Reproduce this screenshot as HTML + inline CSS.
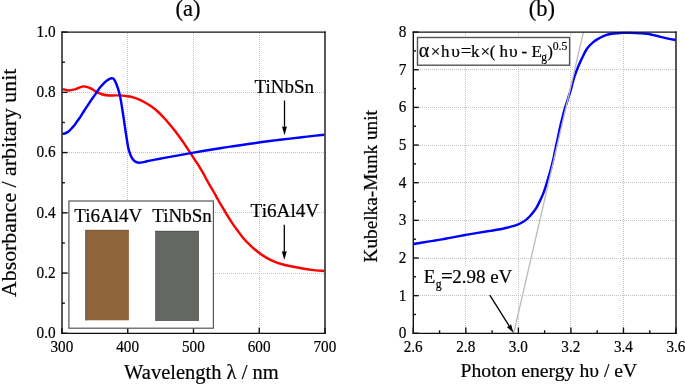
<!DOCTYPE html>
<html><head><meta charset="utf-8"><style>
html,body{margin:0;padding:0;background:#fff;}
body{width:685px;height:384px;overflow:hidden;font-family:"Liberation Serif",serif;}
svg{display:block;will-change:transform;}
text{font-family:"Liberation Serif",serif;fill:#000;stroke:#000;stroke-width:0.2px;}
</style></head><body>
<svg width="685" height="384" viewBox="0 0 685 384">
<rect width="685" height="384" fill="#fff"/>
<line x1="127.50" y1="33" x2="127.50" y2="332" stroke="#c2c2c2" stroke-width="1" stroke-dasharray="1 1"/>
<line x1="193.50" y1="33" x2="193.50" y2="332" stroke="#c2c2c2" stroke-width="1" stroke-dasharray="1 1"/>
<line x1="259.50" y1="33" x2="259.50" y2="332" stroke="#c2c2c2" stroke-width="1" stroke-dasharray="1 1"/>
<line x1="63" y1="273.50" x2="324" y2="273.50" stroke="#c2c2c2" stroke-width="1" stroke-dasharray="1 1"/>
<line x1="63" y1="212.50" x2="324" y2="212.50" stroke="#c2c2c2" stroke-width="1" stroke-dasharray="1 1"/>
<line x1="63" y1="152.50" x2="324" y2="152.50" stroke="#c2c2c2" stroke-width="1" stroke-dasharray="1 1"/>
<line x1="63" y1="92.50" x2="324" y2="92.50" stroke="#c2c2c2" stroke-width="1" stroke-dasharray="1 1"/>
<path d="M62.50,89.10 C63.57,89.33 66.72,90.50 68.90,90.50 C71.08,90.50 73.18,89.78 75.60,89.10 C78.02,88.42 80.97,86.55 83.40,86.40 C85.83,86.25 88.02,87.28 90.20,88.20 C92.38,89.12 94.42,90.85 96.50,91.90 C98.58,92.95 100.53,93.90 102.70,94.50 C104.87,95.10 107.17,95.35 109.50,95.50 C111.83,95.65 113.67,95.27 116.70,95.40 C119.73,95.53 124.82,95.93 127.70,96.30 C130.58,96.67 131.95,97.00 134.00,97.60 C136.05,98.20 137.96,98.95 140.00,99.90 C142.04,100.85 144.17,102.07 146.25,103.30 C148.33,104.53 150.42,105.77 152.50,107.30 C154.58,108.83 156.67,110.55 158.75,112.50 C160.83,114.45 162.92,116.71 165.00,119.00 C167.08,121.29 169.17,123.72 171.25,126.25 C173.33,128.78 175.54,131.59 177.50,134.20 C179.46,136.81 181.33,139.50 183.00,141.90 C184.67,144.30 186.08,146.47 187.50,148.60 C188.92,150.73 190.17,152.67 191.50,154.70 C192.83,156.73 194.35,159.05 195.50,160.80 C196.65,162.55 197.40,163.60 198.40,165.20 C199.40,166.80 200.50,168.70 201.50,170.40 C202.50,172.10 203.57,173.88 204.40,175.40 C205.23,176.92 205.67,177.97 206.50,179.50 C207.33,181.03 208.38,182.85 209.40,184.60 C210.42,186.35 211.60,188.28 212.60,190.00 C213.60,191.72 214.57,193.40 215.40,194.90 C216.23,196.40 216.72,197.42 217.60,199.00 C218.48,200.58 219.62,202.57 220.70,204.40 C221.78,206.23 223.00,208.17 224.10,210.00 C225.20,211.83 226.27,213.70 227.30,215.40 C228.33,217.10 229.20,218.50 230.30,220.20 C231.40,221.90 232.68,223.87 233.90,225.60 C235.12,227.33 236.48,229.10 237.60,230.60 C238.72,232.10 239.32,232.97 240.60,234.60 C241.88,236.23 243.60,238.53 245.30,240.40 C247.00,242.27 249.05,244.15 250.80,245.80 C252.55,247.45 254.10,248.88 255.80,250.30 C257.50,251.72 259.26,253.08 261.00,254.30 C262.74,255.52 264.50,256.60 266.25,257.60 C268.00,258.60 270.01,259.58 271.50,260.30 C272.99,261.02 273.72,261.32 275.20,261.90 C276.68,262.47 277.80,263.02 280.40,263.75 C283.00,264.48 287.32,265.49 290.80,266.25 C294.28,267.01 297.77,267.69 301.25,268.30 C304.73,268.91 307.88,269.45 311.70,269.90 C315.52,270.35 322.12,270.82 324.20,271.00" fill="none" stroke="#ff0000" stroke-width="2.45" stroke-linejoin="round"/>
<path d="M62.50,133.90 C62.85,133.83 63.82,133.75 64.60,133.50 C65.38,133.25 66.33,132.92 67.20,132.40 C68.07,131.88 68.93,131.22 69.80,130.40 C70.67,129.58 71.53,128.50 72.40,127.50 C73.27,126.50 74.13,125.53 75.00,124.40 C75.87,123.27 76.73,121.92 77.60,120.70 C78.47,119.48 79.13,118.72 80.20,117.10 C81.27,115.48 82.77,112.92 84.00,111.00 C85.23,109.08 86.43,107.37 87.60,105.60 C88.77,103.83 89.87,102.07 91.00,100.40 C92.13,98.73 93.38,97.07 94.40,95.60 C95.42,94.13 96.03,93.10 97.10,91.60 C98.17,90.10 99.58,88.10 100.80,86.60 C102.02,85.10 103.37,83.63 104.40,82.60 C105.43,81.57 106.13,81.03 107.00,80.40 C107.87,79.77 108.83,79.17 109.60,78.80 C110.37,78.43 111.00,78.23 111.60,78.20 C112.20,78.17 112.67,78.20 113.20,78.60 C113.73,79.00 114.28,79.73 114.80,80.60 C115.32,81.47 115.83,82.65 116.30,83.80 C116.77,84.95 117.17,86.20 117.60,87.50 C118.03,88.80 118.52,90.27 118.90,91.60 C119.28,92.93 119.52,93.70 119.90,95.50 C120.28,97.30 120.77,99.90 121.20,102.40 C121.63,104.90 122.03,107.50 122.50,110.50 C122.97,113.50 123.52,117.15 124.00,120.40 C124.48,123.65 124.90,126.67 125.40,130.00 C125.90,133.33 126.52,137.40 127.00,140.40 C127.48,143.40 127.82,145.83 128.30,148.00 C128.78,150.17 129.35,151.83 129.90,153.40 C130.45,154.97 130.95,156.23 131.60,157.40 C132.25,158.57 133.00,159.60 133.80,160.40 C134.60,161.20 135.53,161.80 136.40,162.20 C137.27,162.60 137.95,162.78 139.00,162.80 C140.05,162.82 141.53,162.52 142.70,162.30 C143.87,162.08 144.78,161.78 146.00,161.50 C147.22,161.22 147.67,161.07 150.00,160.60 C152.33,160.13 156.67,159.32 160.00,158.70 C163.33,158.08 164.85,157.83 170.00,156.90 C175.15,155.97 182.57,154.55 190.90,153.10 C199.23,151.65 212.65,149.38 220.00,148.20 C227.35,147.02 230.00,146.73 235.00,146.00 C240.00,145.27 245.83,144.42 250.00,143.80 C254.17,143.18 255.83,142.87 260.00,142.30 C264.17,141.73 270.00,141.02 275.00,140.40 C280.00,139.78 284.67,139.23 290.00,138.60 C295.33,137.97 301.30,137.25 307.00,136.60 C312.70,135.95 321.33,135.02 324.20,134.70" fill="none" stroke="#0000ff" stroke-width="2.45" stroke-linejoin="round"/>
<line x1="62.0" y1="333.30" x2="67.6" y2="333.30" stroke="#111" stroke-width="1.4"/>
<line x1="62.0" y1="303.18" x2="64.9" y2="303.18" stroke="#111" stroke-width="1.4"/>
<line x1="62.0" y1="273.06" x2="67.6" y2="273.06" stroke="#111" stroke-width="1.4"/>
<line x1="62.0" y1="242.94" x2="64.9" y2="242.94" stroke="#111" stroke-width="1.4"/>
<line x1="62.0" y1="212.82" x2="67.6" y2="212.82" stroke="#111" stroke-width="1.4"/>
<line x1="62.0" y1="182.70" x2="64.9" y2="182.70" stroke="#111" stroke-width="1.4"/>
<line x1="62.0" y1="152.58" x2="67.6" y2="152.58" stroke="#111" stroke-width="1.4"/>
<line x1="62.0" y1="122.46" x2="64.9" y2="122.46" stroke="#111" stroke-width="1.4"/>
<line x1="62.0" y1="92.34" x2="67.6" y2="92.34" stroke="#111" stroke-width="1.4"/>
<line x1="62.0" y1="62.22" x2="64.9" y2="62.22" stroke="#111" stroke-width="1.4"/>
<line x1="62.0" y1="32.10" x2="67.6" y2="32.10" stroke="#111" stroke-width="1.4"/>
<line x1="62.00" y1="333.3" x2="62.00" y2="327.7" stroke="#111" stroke-width="1.4"/>
<line x1="127.75" y1="333.3" x2="127.75" y2="327.7" stroke="#111" stroke-width="1.4"/>
<line x1="193.50" y1="333.3" x2="193.50" y2="327.7" stroke="#111" stroke-width="1.4"/>
<line x1="259.25" y1="333.3" x2="259.25" y2="327.7" stroke="#111" stroke-width="1.4"/>
<line x1="325.00" y1="333.3" x2="325.00" y2="327.7" stroke="#111" stroke-width="1.4"/>
<rect x="68.9" y="201" width="144.5" height="127.2" fill="#fff" stroke="#555" stroke-width="1.2"/>
<rect x="85.2" y="229.9" width="43.7" height="90.4" fill="rgb(143,101,61)"/>
<rect x="85.2" y="229.9" width="43.7" height="1" fill="rgb(128,91,60)"/>
<rect x="85.2" y="229.9" width="1.1" height="90.4" fill="rgb(124,110,102)"/>
<rect x="86.3" y="229.9" width="0.9" height="90.4" fill="rgb(120,96,74)"/>
<rect x="155.1" y="230.9" width="43.9" height="90.1" fill="rgb(100,103,98)"/>
<rect x="155.1" y="230.9" width="43.9" height="1" fill="rgb(85,86,84)"/>
<line x1="62.0" y1="31.400000000000002" x2="62.0" y2="334.0" stroke="#111" stroke-width="1.4"/><line x1="325.0" y1="31.400000000000002" x2="325.0" y2="334.0" stroke="#111" stroke-width="1.4"/><line x1="61.3" y1="32.1" x2="325.7" y2="32.1" stroke="#111" stroke-width="1.3"/><line x1="61.3" y1="333.3" x2="325.7" y2="333.3" stroke="#111" stroke-width="1.3"/>
<line x1="465.50" y1="33" x2="465.50" y2="332" stroke="#c2c2c2" stroke-width="1" stroke-dasharray="1 1"/>
<line x1="518.50" y1="33" x2="518.50" y2="332" stroke="#c2c2c2" stroke-width="1" stroke-dasharray="1 1"/>
<line x1="570.50" y1="33" x2="570.50" y2="332" stroke="#c2c2c2" stroke-width="1" stroke-dasharray="1 1"/>
<line x1="623.50" y1="33" x2="623.50" y2="332" stroke="#c2c2c2" stroke-width="1" stroke-dasharray="1 1"/>
<line x1="414" y1="295.50" x2="675" y2="295.50" stroke="#c2c2c2" stroke-width="1" stroke-dasharray="1 1"/>
<line x1="414" y1="258.50" x2="675" y2="258.50" stroke="#c2c2c2" stroke-width="1" stroke-dasharray="1 1"/>
<line x1="414" y1="220.50" x2="675" y2="220.50" stroke="#c2c2c2" stroke-width="1" stroke-dasharray="1 1"/>
<line x1="414" y1="182.50" x2="675" y2="182.50" stroke="#c2c2c2" stroke-width="1" stroke-dasharray="1 1"/>
<line x1="414" y1="145.50" x2="675" y2="145.50" stroke="#c2c2c2" stroke-width="1" stroke-dasharray="1 1"/>
<line x1="414" y1="107.50" x2="675" y2="107.50" stroke="#c2c2c2" stroke-width="1" stroke-dasharray="1 1"/>
<line x1="414" y1="69.50" x2="675" y2="69.50" stroke="#c2c2c2" stroke-width="1" stroke-dasharray="1 1"/>
<line x1="413.3" y1="333.30" x2="418.7" y2="333.30" stroke="#111" stroke-width="1.4"/>
<line x1="413.3" y1="314.48" x2="416.0" y2="314.48" stroke="#111" stroke-width="1.4"/>
<line x1="413.3" y1="295.65" x2="418.7" y2="295.65" stroke="#111" stroke-width="1.4"/>
<line x1="413.3" y1="276.83" x2="416.0" y2="276.83" stroke="#111" stroke-width="1.4"/>
<line x1="413.3" y1="258.00" x2="418.7" y2="258.00" stroke="#111" stroke-width="1.4"/>
<line x1="413.3" y1="239.18" x2="416.0" y2="239.18" stroke="#111" stroke-width="1.4"/>
<line x1="413.3" y1="220.35" x2="418.7" y2="220.35" stroke="#111" stroke-width="1.4"/>
<line x1="413.3" y1="201.53" x2="416.0" y2="201.53" stroke="#111" stroke-width="1.4"/>
<line x1="413.3" y1="182.70" x2="418.7" y2="182.70" stroke="#111" stroke-width="1.4"/>
<line x1="413.3" y1="163.88" x2="416.0" y2="163.88" stroke="#111" stroke-width="1.4"/>
<line x1="413.3" y1="145.05" x2="418.7" y2="145.05" stroke="#111" stroke-width="1.4"/>
<line x1="413.3" y1="126.23" x2="416.0" y2="126.23" stroke="#111" stroke-width="1.4"/>
<line x1="413.3" y1="107.40" x2="418.7" y2="107.40" stroke="#111" stroke-width="1.4"/>
<line x1="413.3" y1="88.58" x2="416.0" y2="88.58" stroke="#111" stroke-width="1.4"/>
<line x1="413.3" y1="69.75" x2="418.7" y2="69.75" stroke="#111" stroke-width="1.4"/>
<line x1="413.3" y1="50.93" x2="416.0" y2="50.93" stroke="#111" stroke-width="1.4"/>
<line x1="413.3" y1="32.10" x2="418.7" y2="32.10" stroke="#111" stroke-width="1.4"/>
<line x1="413.30" y1="333.3" x2="413.30" y2="327.5" stroke="#111" stroke-width="1.4"/>
<line x1="439.57" y1="333.3" x2="439.57" y2="330.3" stroke="#111" stroke-width="1.4"/>
<line x1="465.84" y1="333.3" x2="465.84" y2="327.5" stroke="#111" stroke-width="1.4"/>
<line x1="492.11" y1="333.3" x2="492.11" y2="330.3" stroke="#111" stroke-width="1.4"/>
<line x1="518.38" y1="333.3" x2="518.38" y2="327.5" stroke="#111" stroke-width="1.4"/>
<line x1="544.65" y1="333.3" x2="544.65" y2="330.3" stroke="#111" stroke-width="1.4"/>
<line x1="570.92" y1="333.3" x2="570.92" y2="327.5" stroke="#111" stroke-width="1.4"/>
<line x1="597.19" y1="333.3" x2="597.19" y2="330.3" stroke="#111" stroke-width="1.4"/>
<line x1="623.46" y1="333.3" x2="623.46" y2="327.5" stroke="#111" stroke-width="1.4"/>
<line x1="649.73" y1="333.3" x2="649.73" y2="330.3" stroke="#111" stroke-width="1.4"/>
<line x1="676.00" y1="333.3" x2="676.00" y2="327.5" stroke="#111" stroke-width="1.4"/>
<rect x="417.5" y="37.5" width="152.1" height="27.7" fill="#fff" stroke="#555" stroke-width="1.4"/>
<path d="M413.60,244.00 C415.07,243.75 419.20,243.02 422.40,242.50 C425.60,241.98 429.53,241.42 432.80,240.90 C436.07,240.38 439.13,239.90 442.00,239.40 C444.87,238.90 446.12,238.63 450.00,237.90 C453.88,237.17 460.43,235.88 465.30,235.00 C470.17,234.12 475.08,233.28 479.20,232.60 C483.32,231.92 486.53,231.47 490.00,230.90 C493.47,230.33 497.25,229.72 500.00,229.20 C502.75,228.68 504.33,228.30 506.50,227.80 C508.67,227.30 511.05,226.78 513.00,226.20 C514.95,225.62 516.57,225.00 518.20,224.30 C519.83,223.60 521.45,222.78 522.80,222.00 C524.15,221.22 525.17,220.52 526.30,219.60 C527.43,218.68 528.45,217.72 529.60,216.50 C530.75,215.28 532.05,213.78 533.20,212.30 C534.35,210.82 535.43,209.38 536.50,207.60 C537.57,205.82 538.48,203.93 539.60,201.60 C540.72,199.27 542.15,196.23 543.20,193.60 C544.25,190.97 545.07,188.40 545.90,185.80 C546.73,183.20 547.42,180.63 548.20,178.00 C548.98,175.37 549.80,172.90 550.60,170.00 C551.40,167.10 552.23,163.93 553.00,160.60 C553.77,157.27 554.40,153.77 555.20,150.00 C556.00,146.23 557.13,141.10 557.80,138.00 C558.47,134.90 558.68,133.80 559.20,131.40 C559.72,129.00 560.28,126.20 560.90,123.60 C561.52,121.00 562.27,118.27 562.90,115.80 C563.53,113.33 564.08,110.90 564.70,108.80 C565.32,106.70 565.90,105.40 566.60,103.20 C567.30,101.00 568.20,97.80 568.90,95.60 C569.60,93.40 570.08,92.50 570.80,90.00 C571.52,87.50 572.23,83.83 573.20,80.60 C574.17,77.37 575.43,73.70 576.60,70.60 C577.77,67.50 579.05,64.57 580.20,62.00 C581.35,59.43 582.35,57.43 583.50,55.20 C584.65,52.97 585.43,50.82 587.10,48.60 C588.77,46.38 591.43,43.65 593.50,41.90 C595.57,40.15 597.55,39.20 599.50,38.10 C601.45,37.00 603.17,36.02 605.20,35.30 C607.23,34.58 609.65,34.15 611.70,33.80 C613.75,33.45 615.55,33.35 617.50,33.20 C619.45,33.05 621.45,32.95 623.40,32.90 C625.35,32.85 627.10,32.87 629.20,32.90 C631.30,32.93 633.80,33.02 636.00,33.10 C638.20,33.18 640.27,33.25 642.40,33.40 C644.53,33.55 646.65,33.65 648.80,34.00 C650.95,34.35 653.15,34.98 655.30,35.50 C657.45,36.02 659.57,36.58 661.70,37.10 C663.83,37.62 665.80,38.12 668.10,38.60 C670.40,39.08 674.27,39.77 675.50,40.00" fill="none" stroke="#0000ff" stroke-width="2.45" stroke-linejoin="round"/>
<line x1="513.7" y1="333.3" x2="583.4" y2="32.1" stroke="#bcbcbc" stroke-width="1.35"/>
<line x1="413.3" y1="31.400000000000002" x2="413.3" y2="334.0" stroke="#111" stroke-width="1.4"/><line x1="676.0" y1="31.400000000000002" x2="676.0" y2="334.0" stroke="#111" stroke-width="1.4"/><line x1="412.6" y1="32.1" x2="676.7" y2="32.1" stroke="#111" stroke-width="1.3"/><line x1="412.6" y1="333.3" x2="676.7" y2="333.3" stroke="#111" stroke-width="1.3"/>
<line x1="284.5" y1="100.5" x2="284.50" y2="129.92" stroke="#000" stroke-width="1.3"/><path d="M284.50,135.20 L282.00,126.40 L284.50,127.02 L287.00,126.40 Z" fill="#000"/>
<line x1="284.3" y1="224.7" x2="284.30" y2="254.72" stroke="#000" stroke-width="1.3"/><path d="M284.30,260.00 L281.80,251.20 L284.30,251.82 L286.80,251.20 Z" fill="#000"/>
<line x1="489.8" y1="295.1" x2="510.79" y2="328.53" stroke="#000" stroke-width="1.3"/><path d="M513.60,333.00 L506.80,326.88 L509.25,326.07 L511.04,324.22 Z" fill="#000"/>
<text transform="translate(55.60,338.15) scale(0.965,1)" font-size="15.8" text-anchor="end">0.0</text>
<text transform="translate(55.60,277.91) scale(0.965,1)" font-size="15.8" text-anchor="end">0.2</text>
<text transform="translate(55.60,217.67) scale(0.965,1)" font-size="15.8" text-anchor="end">0.4</text>
<text transform="translate(55.60,157.43) scale(0.965,1)" font-size="15.8" text-anchor="end">0.6</text>
<text transform="translate(55.60,97.19) scale(0.965,1)" font-size="15.8" text-anchor="end">0.8</text>
<text transform="translate(55.60,36.95) scale(0.965,1)" font-size="15.8" text-anchor="end">1.0</text>
<text transform="translate(61.90,351.7) scale(0.955,1)" font-size="15.9" text-anchor="middle">300</text>
<text transform="translate(127.65,351.7) scale(0.955,1)" font-size="15.9" text-anchor="middle">400</text>
<text transform="translate(193.40,351.7) scale(0.955,1)" font-size="15.9" text-anchor="middle">500</text>
<text transform="translate(259.15,351.7) scale(0.955,1)" font-size="15.9" text-anchor="middle">600</text>
<text transform="translate(324.90,351.7) scale(0.955,1)" font-size="15.9" text-anchor="middle">700</text>
<text transform="translate(406.50,338.15) scale(0.965,1)" font-size="15.8" text-anchor="end">0</text>
<text transform="translate(406.50,300.50) scale(0.965,1)" font-size="15.8" text-anchor="end">1</text>
<text transform="translate(406.50,262.85) scale(0.965,1)" font-size="15.8" text-anchor="end">2</text>
<text transform="translate(406.50,225.20) scale(0.965,1)" font-size="15.8" text-anchor="end">3</text>
<text transform="translate(406.50,187.55) scale(0.965,1)" font-size="15.8" text-anchor="end">4</text>
<text transform="translate(406.50,149.90) scale(0.965,1)" font-size="15.8" text-anchor="end">5</text>
<text transform="translate(406.50,112.25) scale(0.965,1)" font-size="15.8" text-anchor="end">6</text>
<text transform="translate(406.50,74.60) scale(0.965,1)" font-size="15.8" text-anchor="end">7</text>
<text transform="translate(406.50,36.95) scale(0.965,1)" font-size="15.8" text-anchor="end">8</text>
<text transform="translate(413.20,351.7) scale(0.955,1)" font-size="15.9" text-anchor="middle">2.6</text>
<text transform="translate(465.74,351.7) scale(0.955,1)" font-size="15.9" text-anchor="middle">2.8</text>
<text transform="translate(518.28,351.7) scale(0.955,1)" font-size="15.9" text-anchor="middle">3.0</text>
<text transform="translate(570.82,351.7) scale(0.955,1)" font-size="15.9" text-anchor="middle">3.2</text>
<text transform="translate(623.36,351.7) scale(0.955,1)" font-size="15.9" text-anchor="middle">3.4</text>
<text transform="translate(675.90,351.7) scale(0.955,1)" font-size="15.9" text-anchor="middle">3.6</text>
<text x="188" y="16" font-size="22.5" text-anchor="middle"  >(a)</text>
<text x="541.9" y="16" font-size="22.5" text-anchor="middle"  >(b)</text>
<text x="201.4" y="379.2" font-size="20.5" text-anchor="middle"  >Wavelength λ / nm</text>
<text x="548.9" y="377" font-size="19.7" text-anchor="middle"  >Photon energy hυ / eV</text>
<text transform="translate(15.6,182.85) rotate(-90)" font-size="21.8" text-anchor="middle" >Absorbance / arbitary unit</text>
<text transform="translate(376.9,186.3) rotate(-90)" font-size="19.25" text-anchor="middle" >Kubelka-Munk unit</text>
<text x="254.5" y="92.7" font-size="19" text-anchor="start"  >TiNbSn</text>
<text x="250.6" y="216.7" font-size="19.2" text-anchor="start"  >Ti6Al4V</text>
<text x="74.3" y="221.8" font-size="19" text-anchor="start"  >Ti6Al4V</text>
<text x="152.2" y="222" font-size="19" text-anchor="start"  >TiNbSn</text>
<text x="418.74" y="56.90" font-size="20">α</text>
<text x="430.76" y="56.90" font-size="17">×</text>
<text x="441.03" y="56.90" font-size="17">h</text>
<text x="451.37" y="56.90" font-size="17.5">υ</text>
<text x="460.75" y="56.90" font-size="19">=</text>
<text x="470.98" y="56.90" font-size="17">k</text>
<text x="480.46" y="56.90" font-size="17">×</text>
<text x="489.85" y="56.90" font-size="17">(</text>
<text x="499.43" y="56.90" font-size="17">h</text>
<text x="509.07" y="56.90" font-size="17.5">υ</text>
<text x="521.47" y="56.90" font-size="17">-</text>
<text x="531.51" y="56.90" font-size="17">E</text>
<text x="547.35" y="56.90" font-size="17">)</text>
<text x="541.21" y="61.00" font-size="11.5">g</text>
<text x="552.75" y="49.80" font-size="11.7">0.5</text>
<rect x="422" y="266" width="92" height="21.7" fill="#fff"/>
<text x="423.75" y="283.20" font-size="19">E</text>
<text x="435.70" y="287.90" font-size="11.7">g</text>
<text x="441.05" y="283.20" font-size="21">=</text>
<text x="452.17" y="283.20" font-size="19">2.98 eV</text>
</svg>
</body></html>
